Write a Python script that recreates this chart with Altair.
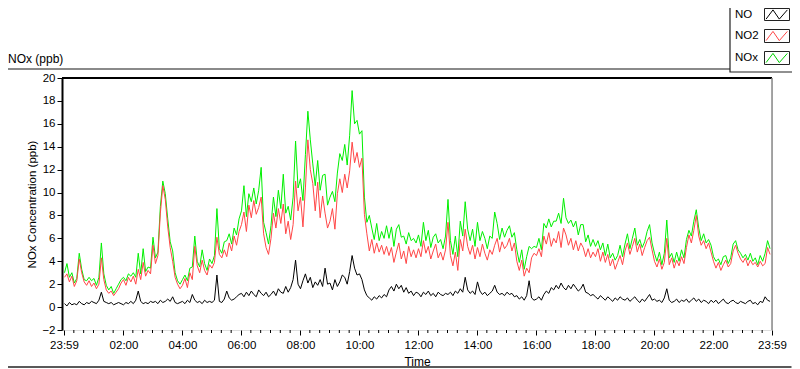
import altair as alt
import pandas as pd

# ---------------- data (5-minute samples, one row per hour) ----------------
NO2 = [
    2.6, 2.9, 2.2, 2.7, 1.8, 2.3, 4.2, 3.0, 2.2, 1.9, 2.3, 1.8,
    2.1, 1.6, 2.0, 4.3, 2.4, 1.5, 1.2, 1.4, 1.0, 1.3, 1.6, 2.1,
    2.4, 1.9, 2.6, 2.2, 2.7, 2.0, 3.3, 2.4, 3.9, 2.7, 3.2, 2.9,
    5.4, 3.8, 4.5, 8.2, 10.6, 9.4, 7.0, 5.2, 4.0, 2.6, 2.0, 1.6,
    1.9, 2.5, 1.7, 3.0, 2.4, 5.3, 3.6, 3.0, 4.1, 3.2, 2.8, 3.7,
    3.4, 3.9, 6.1, 4.6, 4.3, 5.0, 4.4, 5.6, 4.9, 6.2, 5.4, 6.6,
    7.2, 8.3, 6.6, 8.9, 7.8, 9.3, 8.1, 8.7, 9.6, 6.4, 5.2, 4.6,
    6.0, 8.2, 6.9, 8.6, 7.3, 9.0, 6.4, 7.5, 5.9, 7.2, 11.0, 8.4,
    9.6, 7.0, 10.4, 14.6, 12.0, 10.8, 8.4, 10.9, 7.8, 9.7, 8.2, 6.9,
    7.5, 8.6, 6.8, 9.9, 11.2, 10.0, 11.6, 10.4, 11.9, 14.4, 12.6, 13.5,
    12.2, 13.0, 8.1, 6.4, 4.9, 5.9, 4.7, 5.6, 4.8, 5.4, 4.6, 5.3,
    4.5, 5.2, 3.9, 4.8, 5.6, 4.2, 4.9, 3.8, 5.3, 4.4, 5.0, 4.3,
    5.1, 4.4, 5.8, 4.7, 5.3, 4.2, 4.9, 5.5, 4.3, 4.8, 4.1, 5.0,
    7.4, 4.5, 3.6, 4.8, 3.2, 5.9, 4.9, 6.8, 5.3, 4.6, 5.4, 4.2,
    5.2, 4.4, 5.5, 4.7, 4.1, 5.0, 4.6, 5.4, 6.0, 4.8, 5.7, 5.1,
    5.4, 6.0, 4.9, 5.6, 4.0, 3.2, 4.1, 2.7, 3.4, 3.0, 4.3, 4.7,
    4.5, 5.1, 4.4, 6.2, 5.5, 6.5, 5.3, 6.0, 5.6, 6.6, 5.2, 6.9,
    6.3, 5.4, 6.0, 5.0, 5.8, 4.9, 5.6, 5.2, 4.4, 5.1, 4.3, 4.8,
    4.4, 5.1, 4.0, 4.8, 3.9, 4.6, 3.6, 4.2, 3.3, 3.9, 4.5, 3.7,
    4.9, 5.6, 4.6, 5.3, 6.0, 4.8, 5.5, 4.5, 5.2, 5.8, 6.1, 5.0,
    4.0, 3.5, 4.2, 3.3, 3.9, 6.0, 3.7, 4.3, 3.4, 4.1, 3.6, 4.4,
    3.8, 5.2, 6.3, 5.6, 6.7, 8.0, 6.2, 5.4, 5.8, 5.1, 5.6, 4.8,
    4.0, 3.4, 3.9, 3.2, 3.7, 4.1, 3.5, 3.8, 4.9, 5.4, 4.7, 4.2,
    3.9, 4.3, 3.6, 4.1, 3.7, 3.9, 3.5, 4.0, 3.6, 3.8, 5.2, 4.6,
]

NO = [
    0.3, 0.1, 0.4, 0.2, 0.3, 0.2, 0.5, 0.3, 0.2, 0.4, 0.3, 0.5,
    0.4, 0.3, 0.6, 1.3, 0.5, 0.4, 0.3, 0.4, 0.2, 0.3, 0.4, 0.3,
    0.2, 0.4, 0.3, 0.5, 0.3, 0.6, 1.4, 0.5, 0.3, 0.4, 0.3, 0.5,
    0.4, 0.5, 0.3, 0.6, 0.4, 0.5, 0.7, 0.5, 0.9, 0.4, 0.3, 0.4,
    0.5, 0.3, 0.6, 0.4, 1.1, 0.6, 0.4, 0.5, 0.3, 0.6, 0.4, 0.5,
    0.4, 0.6, 2.8, 0.5, 0.4, 0.7, 1.4, 0.8, 0.6, 0.7, 0.9, 1.1,
    1.2, 0.9, 1.3, 1.0, 1.4, 1.1, 0.9, 1.5, 1.2, 1.0, 1.3, 0.9,
    1.1, 1.4, 1.0, 1.6, 1.3, 1.2, 1.8, 1.3, 1.7, 2.4, 4.1, 2.0,
    1.6, 2.3, 2.9, 2.1, 2.6, 1.7, 2.2, 1.9, 2.4, 1.8, 3.4, 2.0,
    2.1, 1.5, 2.4, 1.8, 2.2, 2.8, 2.6, 2.0, 3.1, 4.5, 3.4, 2.8,
    2.9, 2.4, 1.5, 1.0, 0.8, 0.6, 0.9, 0.7, 1.0, 0.8, 1.1, 0.9,
    1.5, 1.8, 1.4, 2.0, 1.6, 1.9, 1.3, 1.7, 1.2, 1.4, 1.0, 1.3,
    1.2, 0.9, 1.3, 1.1, 1.4, 1.0, 1.2, 0.9, 1.3, 1.1, 1.0, 1.2,
    1.1, 1.3, 1.0, 1.4, 1.2, 1.6, 1.3, 2.6, 1.5, 1.2, 1.4, 1.1,
    2.2, 1.4, 1.1, 1.3, 1.0, 1.2, 1.4, 1.9, 1.3, 1.1, 1.2, 1.0,
    1.3, 1.1, 1.2, 0.9, 1.0, 0.7, 0.9, 0.6, 1.0, 2.3, 0.8, 0.6,
    0.7, 0.9, 0.6, 1.1, 1.4, 1.2, 1.7, 1.5, 1.9, 1.6, 2.1, 1.7,
    1.5, 1.9, 1.6, 2.0, 1.7, 1.4, 1.6, 2.0, 1.3, 1.2, 1.0, 1.1,
    0.9, 0.7, 1.0, 0.8, 0.6, 0.9, 0.7, 0.5, 0.8, 0.6, 0.9, 0.7,
    0.6, 0.8, 0.5, 0.7, 0.9, 0.6, 0.4, 0.7, 0.5, 0.8, 1.1, 0.6,
    0.7, 0.5, 0.6, 0.4, 0.8, 1.6, 0.6, 0.4, 0.5, 0.7, 0.4, 0.6,
    0.5, 0.7, 0.4, 0.6, 0.8, 0.5, 0.7, 0.4, 0.6, 0.5, 0.3, 0.6,
    0.4, 0.6, 0.3, 0.5, 0.7, 0.4, 0.3, 0.5, 0.6, 0.4, 0.3, 0.5,
    0.4, 0.3, 0.5, 0.6, 0.3, 0.4, 0.2, 0.5, 0.4, 0.9, 0.6, 0.5,
]

NOX = [
    3.0, 3.8, 2.6, 3.0, 2.1, 2.5, 4.7, 3.3, 2.4, 2.3, 2.6, 2.3,
    2.5, 1.9, 2.6, 5.6, 2.9, 1.9, 1.5, 1.8, 1.2, 1.6, 2.0, 2.4,
    2.6, 2.3, 2.9, 2.7, 3.0, 2.6, 4.7, 2.9, 5.1, 3.1, 3.5, 3.4,
    6.1, 4.3, 4.8, 8.8, 11.0, 9.9, 7.7, 5.7, 4.9, 3.0, 2.3, 2.0,
    2.4, 2.8, 2.3, 3.4, 3.5, 6.2, 4.0, 3.5, 5.0, 3.8, 3.2, 4.2,
    3.8, 4.5, 8.6, 5.1, 4.7, 5.7, 5.8, 6.4, 5.5, 6.9, 6.3, 7.7,
    8.4, 10.6, 7.9, 9.9, 9.2, 10.4, 9.0, 10.2, 12.2, 7.4, 6.5, 5.5,
    7.1, 9.6, 7.9, 10.2, 8.6, 11.6, 8.2, 8.8, 7.6, 9.6, 14.5, 10.4,
    11.2, 9.3, 13.3, 17.1, 14.6, 12.5, 10.6, 12.8, 10.2, 11.5, 11.6, 8.9,
    9.6, 10.1, 9.2, 11.7, 13.4, 12.8, 14.2, 12.4, 15.0, 18.9, 16.0, 16.3,
    15.1, 15.4, 9.6, 7.4, 8.0, 6.9, 5.9, 7.3, 5.8, 6.6, 6.0, 7.1,
    6.0, 7.0, 5.3, 6.8, 7.2, 6.1, 6.2, 5.5, 6.5, 5.8, 6.0, 5.6,
    6.3, 5.3, 7.4, 5.8, 6.7, 5.2, 6.1, 6.4, 5.6, 5.9, 5.1, 6.2,
    9.4, 5.8, 4.6, 6.2, 4.4, 7.5, 6.2, 9.2, 6.8, 5.8, 6.8, 5.3,
    7.4, 5.8, 6.6, 6.0, 5.1, 6.2, 6.0, 8.3, 7.3, 5.9, 6.9, 6.1,
    6.7, 7.1, 6.1, 6.5, 5.0, 3.9, 5.0, 3.3, 4.4, 5.3, 5.1, 5.3,
    5.2, 6.0, 5.0, 7.3, 6.9, 7.7, 7.0, 7.5, 7.5, 8.2, 7.3, 9.5,
    7.8, 7.3, 7.6, 7.0, 7.5, 6.3, 7.2, 7.2, 5.7, 6.3, 5.3, 5.9,
    5.3, 5.8, 5.0, 5.6, 4.5, 5.5, 4.3, 4.7, 4.1, 4.5, 5.4, 4.4,
    5.5, 6.4, 5.1, 6.0, 6.9, 5.4, 5.9, 5.2, 5.7, 6.6, 7.2, 5.6,
    4.7, 4.0, 4.8, 3.7, 4.7, 7.6, 4.3, 4.7, 3.9, 4.8, 4.0, 5.0,
    4.3, 5.9, 6.7, 6.2, 7.5, 8.5, 6.9, 5.8, 6.4, 5.6, 5.9, 5.4,
    4.4, 4.0, 4.2, 3.7, 4.4, 4.5, 3.8, 4.3, 5.5, 5.8, 5.0, 4.7,
    4.3, 4.6, 4.1, 4.7, 4.0, 4.3, 3.7, 4.5, 4.0, 4.7, 5.8, 5.1,
]

SERIES = ["NO", "NO2", "NOx"]
COLORS = {"NO": "#000000", "NO2": "#ff4646", "NOx": "#00f000"}

X_TICK_VALUES = [-1 / 60, 2, 4, 6, 8, 10, 12, 14, 16, 18, 20, 22, 24 - 1 / 60]
X_TICK_LABELS = ["23:59", "02:00", "04:00", "06:00", "08:00", "10:00", "12:00",
                 "14:00", "16:00", "18:00", "20:00", "22:00", "23:59"]
Y_TICK_VALUES = [-2, 0, 2, 4, 6, 8, 10, 12, 14, 16, 18, 20]

# sample times in hours (5-minute resolution)
times = [i * 5 / 60 for i in range(len(NO2))]
minor_ticks = [k / 3 - 1 / 60 for k in range(1, 72) if k % 6 != 0]

W, H = 710, 252
FONT = "Liberation Sans"

label_expr = "''"
for v, lab in reversed(list(zip(X_TICK_VALUES, X_TICK_LABELS))):
    label_expr = f"abs(datum.value - ({v:.5f})) < 0.01 ? '{lab}' : ({label_expr})"

x_scale = alt.Scale(domain=[-1 / 60 - 2 / 29.5, 24 - 1 / 60], nice=False, zero=False)
y_scale = alt.Scale(domain=[-2, 20], nice=False, zero=False)

x_axis = alt.Axis(values=X_TICK_VALUES, labelExpr=label_expr, title="Time",
                  domain=False, grid=False, tickSize=5, tickColor="#000",
                  labelPadding=4.5, titlePadding=5, labelFontSize=11.5,
                  titleFontSize=12, labelColor="#000", titleColor="#000",
                  titleFontWeight="normal", labelFlush=False, labelOverlap=False)
y_axis = alt.Axis(values=Y_TICK_VALUES, title="NOx Concentration (ppb)",
                  domain=True, domainColor="#000", domainWidth=2, grid=False,
                  tickSize=5, tickColor="#000", labelPadding=2,
                  labelFontSize=11.5, titleFontSize=11.5, labelColor="#000",
                  titleColor="#000", titleFontWeight="normal",
                  titleX=-30, titleY=H / 2, titleBaseline="middle",
                  titleAngle=-90, labelFlush=False, labelOverlap=False)

series_values = {"NO": NO, "NO2": NO2, "NOx": NOX}

def xenc(field="t:Q"):
    return alt.X(field, scale=x_scale, axis=x_axis)

def yenc(field="v:Q"):
    return alt.Y(field, scale=y_scale, axis=y_axis)

layers = []
for name in ["NOx", "NO2", "NO"]:
    df = pd.DataFrame({"t": times, "v": series_values[name]})
    layers.append(
        alt.Chart(df)
        .mark_line(color=COLORS[name], strokeWidth=1, interpolate="linear")
        .encode(x=xenc(), y=yenc())
    )

# minor x ticks
minor = alt.Chart(pd.DataFrame({"t": minor_ticks})).mark_rule(
    color="#000", strokeWidth=1
).encode(x=xenc(), y=alt.value(H), y2=alt.value(H + 3))

one = pd.DataFrame({"a": [0]})

def rule(x, x2, y, y2, color, width):
    return alt.Chart(one).mark_rule(color=color, strokeWidth=width).encode(
        x=alt.value(x), x2=alt.value(x2), y=alt.value(y), y2=alt.value(y2))

def text(x, y, s, size=12, align="left"):
    return alt.Chart(one).mark_text(
        text=s, font=FONT, fontSize=size, color="#000", align=align,
        baseline="middle").encode(x=alt.value(x), y=alt.value(y))

RIGHT_EDGE = 729.5  # right edge of the drawable canvas, relative to plot origin

decor = [
    rule(0, W, 0, 0, "#000", 2),                      # plot top border
    rule(W, W, 0, H, "#8a8a8a", 1.5),                 # plot right border
    rule(-54, 668, -9, -9, "#8a8a8a", 2),             # outer frame top
    rule(-54, RIGHT_EDGE, 289, 289, "#222", 1.5),     # outer frame bottom
    text(-54, -19, "NOx (ppb)", 12),
]

# legend box
legend_box = alt.Chart(one).mark_rect(fill="#ffffff", stroke="#222", strokeWidth=1.2).encode(
    x=alt.value(668), x2=alt.value(RIGHT_EDGE + 3), y=alt.value(-80), y2=alt.value(-6))
legend = [legend_box]
legend_rows = [(-63, -69.5, -57.5), (-42, -48.5, -35.5), (-20, -26.5, -13.5)]
icon_colors = {"NO": "#000000", "NO2": "#ff4646", "NOx": "#00d000"}
zig = "M-0.95,0.4L-0.35,-0.4L0.2,0.4L0.9,-0.4"
for name, (ty, by0, by1) in zip(SERIES, legend_rows):
    legend.append(text(673, ty, name, 11.5))
    legend.append(alt.Chart(one).mark_rect(fill="#ffffff", stroke="#222", strokeWidth=1).encode(
        x=alt.value(702.5), x2=alt.value(727.5), y=alt.value(by0), y2=alt.value(by1)))
    legend.append(alt.Chart(one).mark_point(shape=zig, filled=False, color=icon_colors[name],
                                            strokeWidth=1, size=529, opacity=1).encode(
        x=alt.value(715), y=alt.value((by0 + by1) / 2)))

chart = alt.layer(*layers, minor, *decor, *legend).properties(
    width=W, height=H,
    autosize=alt.AutoSizeParams(type="none"),
    padding={"left": 54, "top": 70, "right": 20, "bottom": 39},
).configure_view(stroke=None).configure_axis(
    labelFont=FONT, titleFont=FONT
).configure(background="#ffffff")

chart.save("out.html", embed_options={"renderer": "svg", "actions": False})
